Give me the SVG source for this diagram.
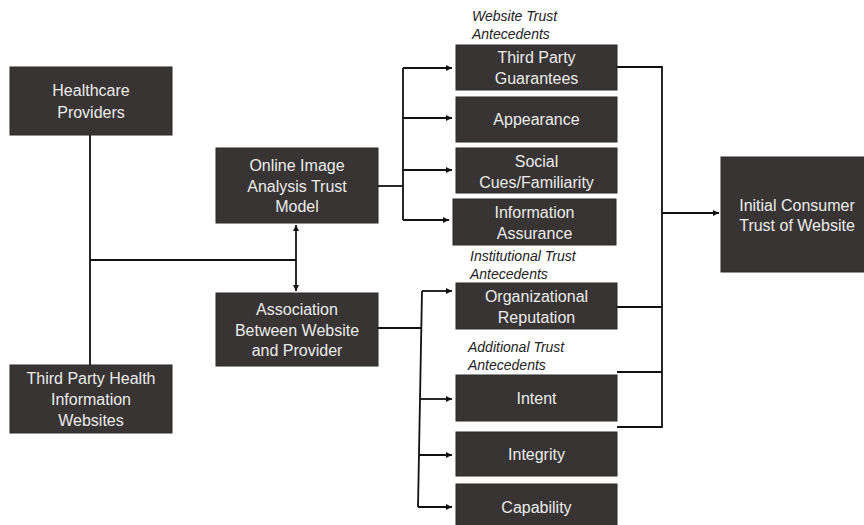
<svg xmlns="http://www.w3.org/2000/svg" width="864" height="525" viewBox="0 0 864 525">
<defs>
<marker id="ah" markerWidth="8" markerHeight="8" refX="6" refY="3" orient="auto" markerUnits="userSpaceOnUse">
<path d="M0,0 L6,3 L0,6 Z" fill="#111"/>
</marker>
<style>
.box{fill:#383434;stroke:#2a2828;stroke-width:1}
.t{font-family:"Liberation Sans",Arial,sans-serif;font-size:16px;fill:#ececec;text-anchor:middle}
.lab{font-family:"Liberation Sans",Arial,sans-serif;font-size:14px;font-style:italic;fill:#222}
.c{fill:none;stroke:#111;stroke-width:1.8}
.a{fill:none;stroke:#111;stroke-width:1.8;marker-end:url(#ah)}
</style>
</defs>
<rect width="864" height="525" fill="#fff"/>
<g id="connectors">
<path class="c" d="M90,135 V365"/>
<path class="c" d="M90,260 H296"/>
<path class="a" d="M296,260 V225"/>
<path class="a" d="M296,260 V291"/>
<path class="c" d="M378,186 H403"/>
<path class="c" d="M403,68 V220"/>
<path class="a" d="M403,68 H452"/>
<path class="a" d="M403,118 H452"/>
<path class="a" d="M403,170 H452"/>
<path class="a" d="M403,220 H449"/>
<path class="c" d="M378,328 H422"/>
<path class="c" d="M422,291 L418,507"/>
<path class="a" d="M422,291 H452"/>
<path class="a" d="M420,399 H452"/>
<path class="a" d="M419,455 H452"/>
<path class="a" d="M418,507 H452"/>
<path class="c" d="M617,67 H662 V427 H617"/>
<path class="c" d="M617,307 H662"/>
<path class="c" d="M617,372 H662"/>
<path class="a" d="M662,213 H719"/>
</g>
<g id="healthcare-providers"><rect class="box" x="10" y="67" width="162" height="68"/><text class="t" x="91" y="95.5">Healthcare</text><text class="t" x="91" y="117.5">Providers</text></g>
<g id="online-image"><rect class="box" x="216" y="148" width="162" height="75"/><text class="t" x="297" y="170.5">Online Image</text><text class="t" x="297" y="191.5">Analysis Trust</text><text class="t" x="297" y="211.5">Model</text></g>
<g id="association"><rect class="box" x="216" y="293" width="162" height="73"/><text class="t" x="297" y="314.5">Association</text><text class="t" x="297" y="335.5">Between Website</text><text class="t" x="297" y="355.5">and Provider</text></g>
<g id="third-party-health"><rect class="box" x="10" y="365" width="162" height="68"/><text class="t" x="91" y="383.5">Third Party Health</text><text class="t" x="91" y="405">Information</text><text class="t" x="91" y="426">Websites</text></g>
<g id="website-label"><text class="lab" x="472" y="21">Website Trust</text><text class="lab" x="472" y="39">Antecedents</text></g>
<g id="third-party-guarantees"><rect class="box" x="456" y="45" width="161" height="45"/><text class="t" x="536.5" y="62.5">Third Party</text><text class="t" x="536.5" y="84">Guarantees</text></g>
<g id="appearance"><rect class="box" x="456" y="97" width="161" height="45"/><text class="t" x="536.5" y="124.5">Appearance</text></g>
<g id="social-cues"><rect class="box" x="456" y="148" width="161" height="45"/><text class="t" x="536.5" y="167">Social</text><text class="t" x="536.5" y="187.5">Cues/Familiarity</text></g>
<g id="information-assurance"><rect class="box" x="453" y="199" width="163" height="46"/><text class="t" x="534.5" y="217.5">Information</text><text class="t" x="534.5" y="238.5">Assurance</text></g>
<g id="institutional-label"><text class="lab" x="470" y="261">Institutional Trust</text><text class="lab" x="470" y="279">Antecedents</text></g>
<g id="organizational-reputation"><rect class="box" x="456" y="283" width="161" height="46"/><text class="t" x="536.5" y="302">Organizational</text><text class="t" x="536.5" y="322.5">Reputation</text></g>
<g id="additional-label"><text class="lab" x="468" y="352">Additional Trust</text><text class="lab" x="468" y="370">Antecedents</text></g>
<g id="intent"><rect class="box" x="456" y="375" width="161" height="46"/><text class="t" x="536.5" y="403.5">Intent</text></g>
<g id="integrity"><rect class="box" x="456" y="432" width="161" height="44"/><text class="t" x="536.5" y="459.5">Integrity</text></g>
<g id="capability"><rect class="box" x="456" y="484" width="161" height="45"/><text class="t" x="536.5" y="512.5">Capability</text></g>
<g id="initial-consumer-trust"><rect class="box" x="721" y="157" width="148" height="115"/><text class="t" x="797" y="210.5">Initial Consumer</text><text class="t" x="797" y="230.5">Trust of Website</text></g>
</svg>
